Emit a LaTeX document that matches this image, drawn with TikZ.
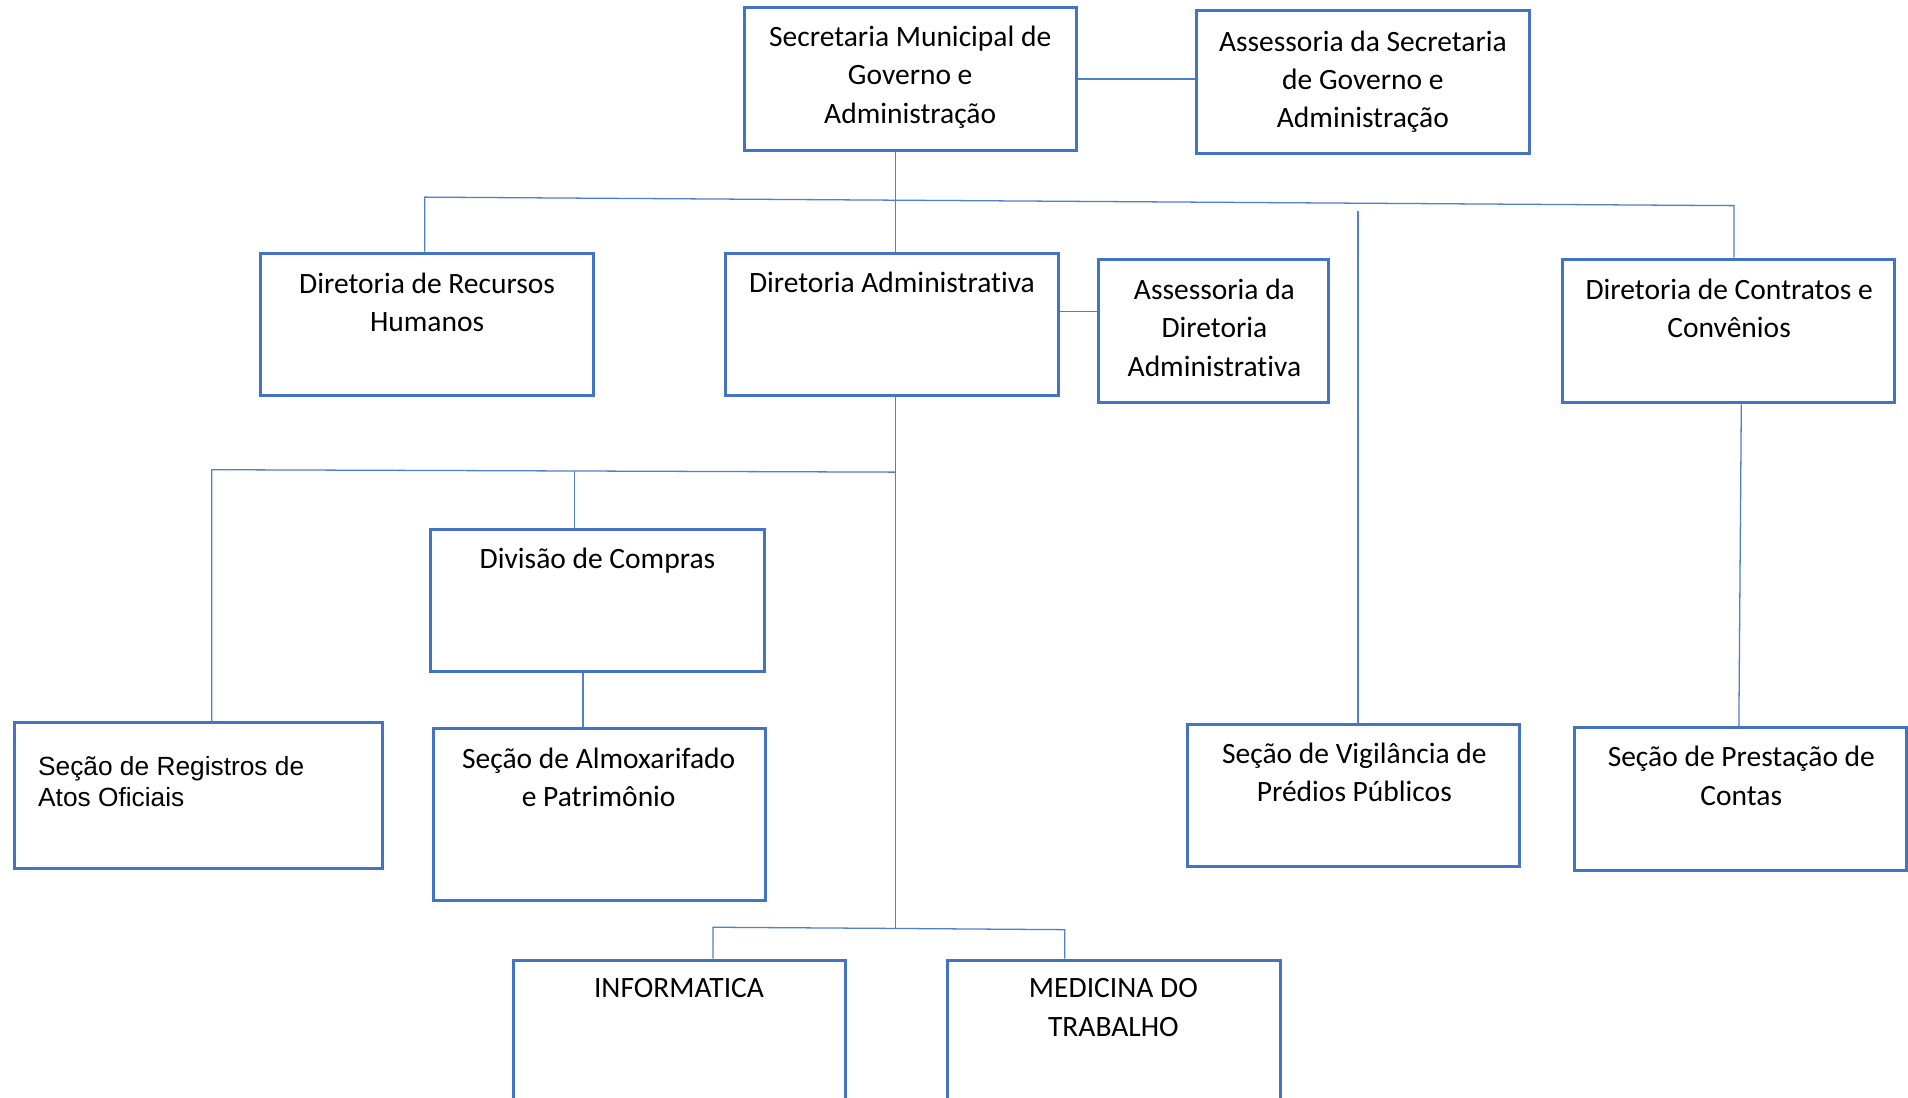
\documentclass[tikz,border=0pt]{standalone}
\usepackage{fontspec}
\setmainfont{Carlito}[Ligatures=NoCommon]
\newfontfamily\arialf{Liberation Sans}
\usetikzlibrary{fit}
\definecolor{boxblue}{HTML}{4472C4}
\definecolor{lineblue}{HTML}{4F7FCF}
\tikzset{
 orgbox/.style={draw=boxblue, line width=1.4pt, inner sep=0pt},
 conn/.style={draw=lineblue, line width=0.6pt},
 lbl/.style={anchor=north, inner sep=0pt, align=center, font=\fontsize{13.8}{17.9}\selectfont},
 lblA/.style={anchor=north west, inner sep=0pt, align=left, font=\arialf\fontsize{12.3}{14.8}\selectfont},
}
\begin{document}
\begin{tikzpicture}[x=0.02cm, y=-0.02cm]
\fill[white] (0,0) rectangle (1568,902);
\useasboundingbox (0,0) rectangle (1568,902);

% boxes
\node[orgbox, fit={(612,6) (885,124)}] (sec) {};
\node[orgbox, fit={(983,9) (1257,126)}] (asec) {};
\node[orgbox, fit={(214,208) (488,325)}] (drh) {};
\node[orgbox, fit={(596,208) (870,325)}] (dadm) {};
\node[orgbox, fit={(903,213) (1092,331)}] (adadm) {};
\node[orgbox, fit={(1284,213) (1557,331)}] (dct) {};
\node[orgbox, fit={(354,435) (628,552)}] (dcomp) {};
\node[orgbox, fit={(12,594) (314,714)}] (sreg) {};
\node[orgbox, fit={(356,599) (629,740)}] (salm) {};
\node[orgbox, fit={(976,595) (1249,712)}] (svig) {};
\node[orgbox, fit={(1294,598) (1567,715)}] (sprest) {};
\node[orgbox, fit={(422,789) (695,912)}] (info) {};
\node[orgbox, fit={(779,789) (1052,912)}] (med) {};

% labels
\node[lbl] (t1) at (748,21) {Secretaria Municipal de\\Governo e\\Administração};
\node[lbl] (t2) at (1120,25) {Assessoria da Secretaria\\de Governo e\\Administração};
\node[lbl] (t3) at (351,224) {Diretoria de Recursos\\Humanos};
\node[lbl] (t4) at (733,223) {Diretoria Administrativa};
\node[lbl] (t5) at (998,229) {Assessoria da\\Diretoria\\Administrativa};
\node[lbl] (t6) at (1421,229) {Diretoria de Contratos e\\Convênios};
\node[lbl] (t7) at (491,450) {Divisão de Compras};
\node[lblA] (t8) at (31,621) {Seção de Registros de\\Atos Oficiais};
\node[lbl] (t9) at (492,614) {Seção de Almoxarifado\\e Patrimônio};
\node[lbl] (t10) at (1113,610) {Seção de Vigilância de\\Prédios Públicos};
\node[lbl] (t11) at (1431,613) {Seção de Prestação de\\Contas};
\node[lbl] (t12) at (558,804) {INFORMATICA};
\node[lbl] (t13) at (915,804) {MEDICINA DO\\TRABALHO};

% helper coordinates
\coordinate (x736) at (736,0);
\coordinate (b1) at (349,162);
\coordinate (b2) at (1425,169);
\coordinate (v1) at (1116,173);
\coordinate (h256) at (0,256);
\coordinate (c174) at (174,386);
\coordinate (c736) at (736,388);
\coordinate (c472) at (472,387);
\coordinate (x479) at (479,0);
\coordinate (d1) at (736,763);
\coordinate (e1) at (586,762);
\coordinate (e2) at (875,764);
\coordinate (p1) at (1431,0);
\coordinate (p2) at (1429,0);

% connectors
\draw[conn] (sec.east) -- (sec.east -| asec.west);
\draw[conn] (sec.south -| x736) -- (dadm.north -| x736);
\draw[conn] (drh.north -| b1) -- (b1) -- (b2) -- (dct.north -| b2);
\draw[conn] (v1) -- (svig.north -| v1);
\draw[conn] (dadm.east |- h256) -- (adadm.west |- h256);
\draw[conn] (dadm.south -| x736) -- (d1);
\draw[conn] (sreg.north -| c174) -- (c174) -- (c736);
\draw[conn] (c472) -- (dcomp.north -| c472);
\draw[conn] (dcomp.south -| x479) -- (salm.north -| x479);
\draw[conn] (info.north -| e1) -- (e1) -- (d1) -- (e2) -- (med.north -| e2);
\draw[conn] (dct.south -| p1) -- (sprest.north -| p2);
\end{tikzpicture}
\end{document}
